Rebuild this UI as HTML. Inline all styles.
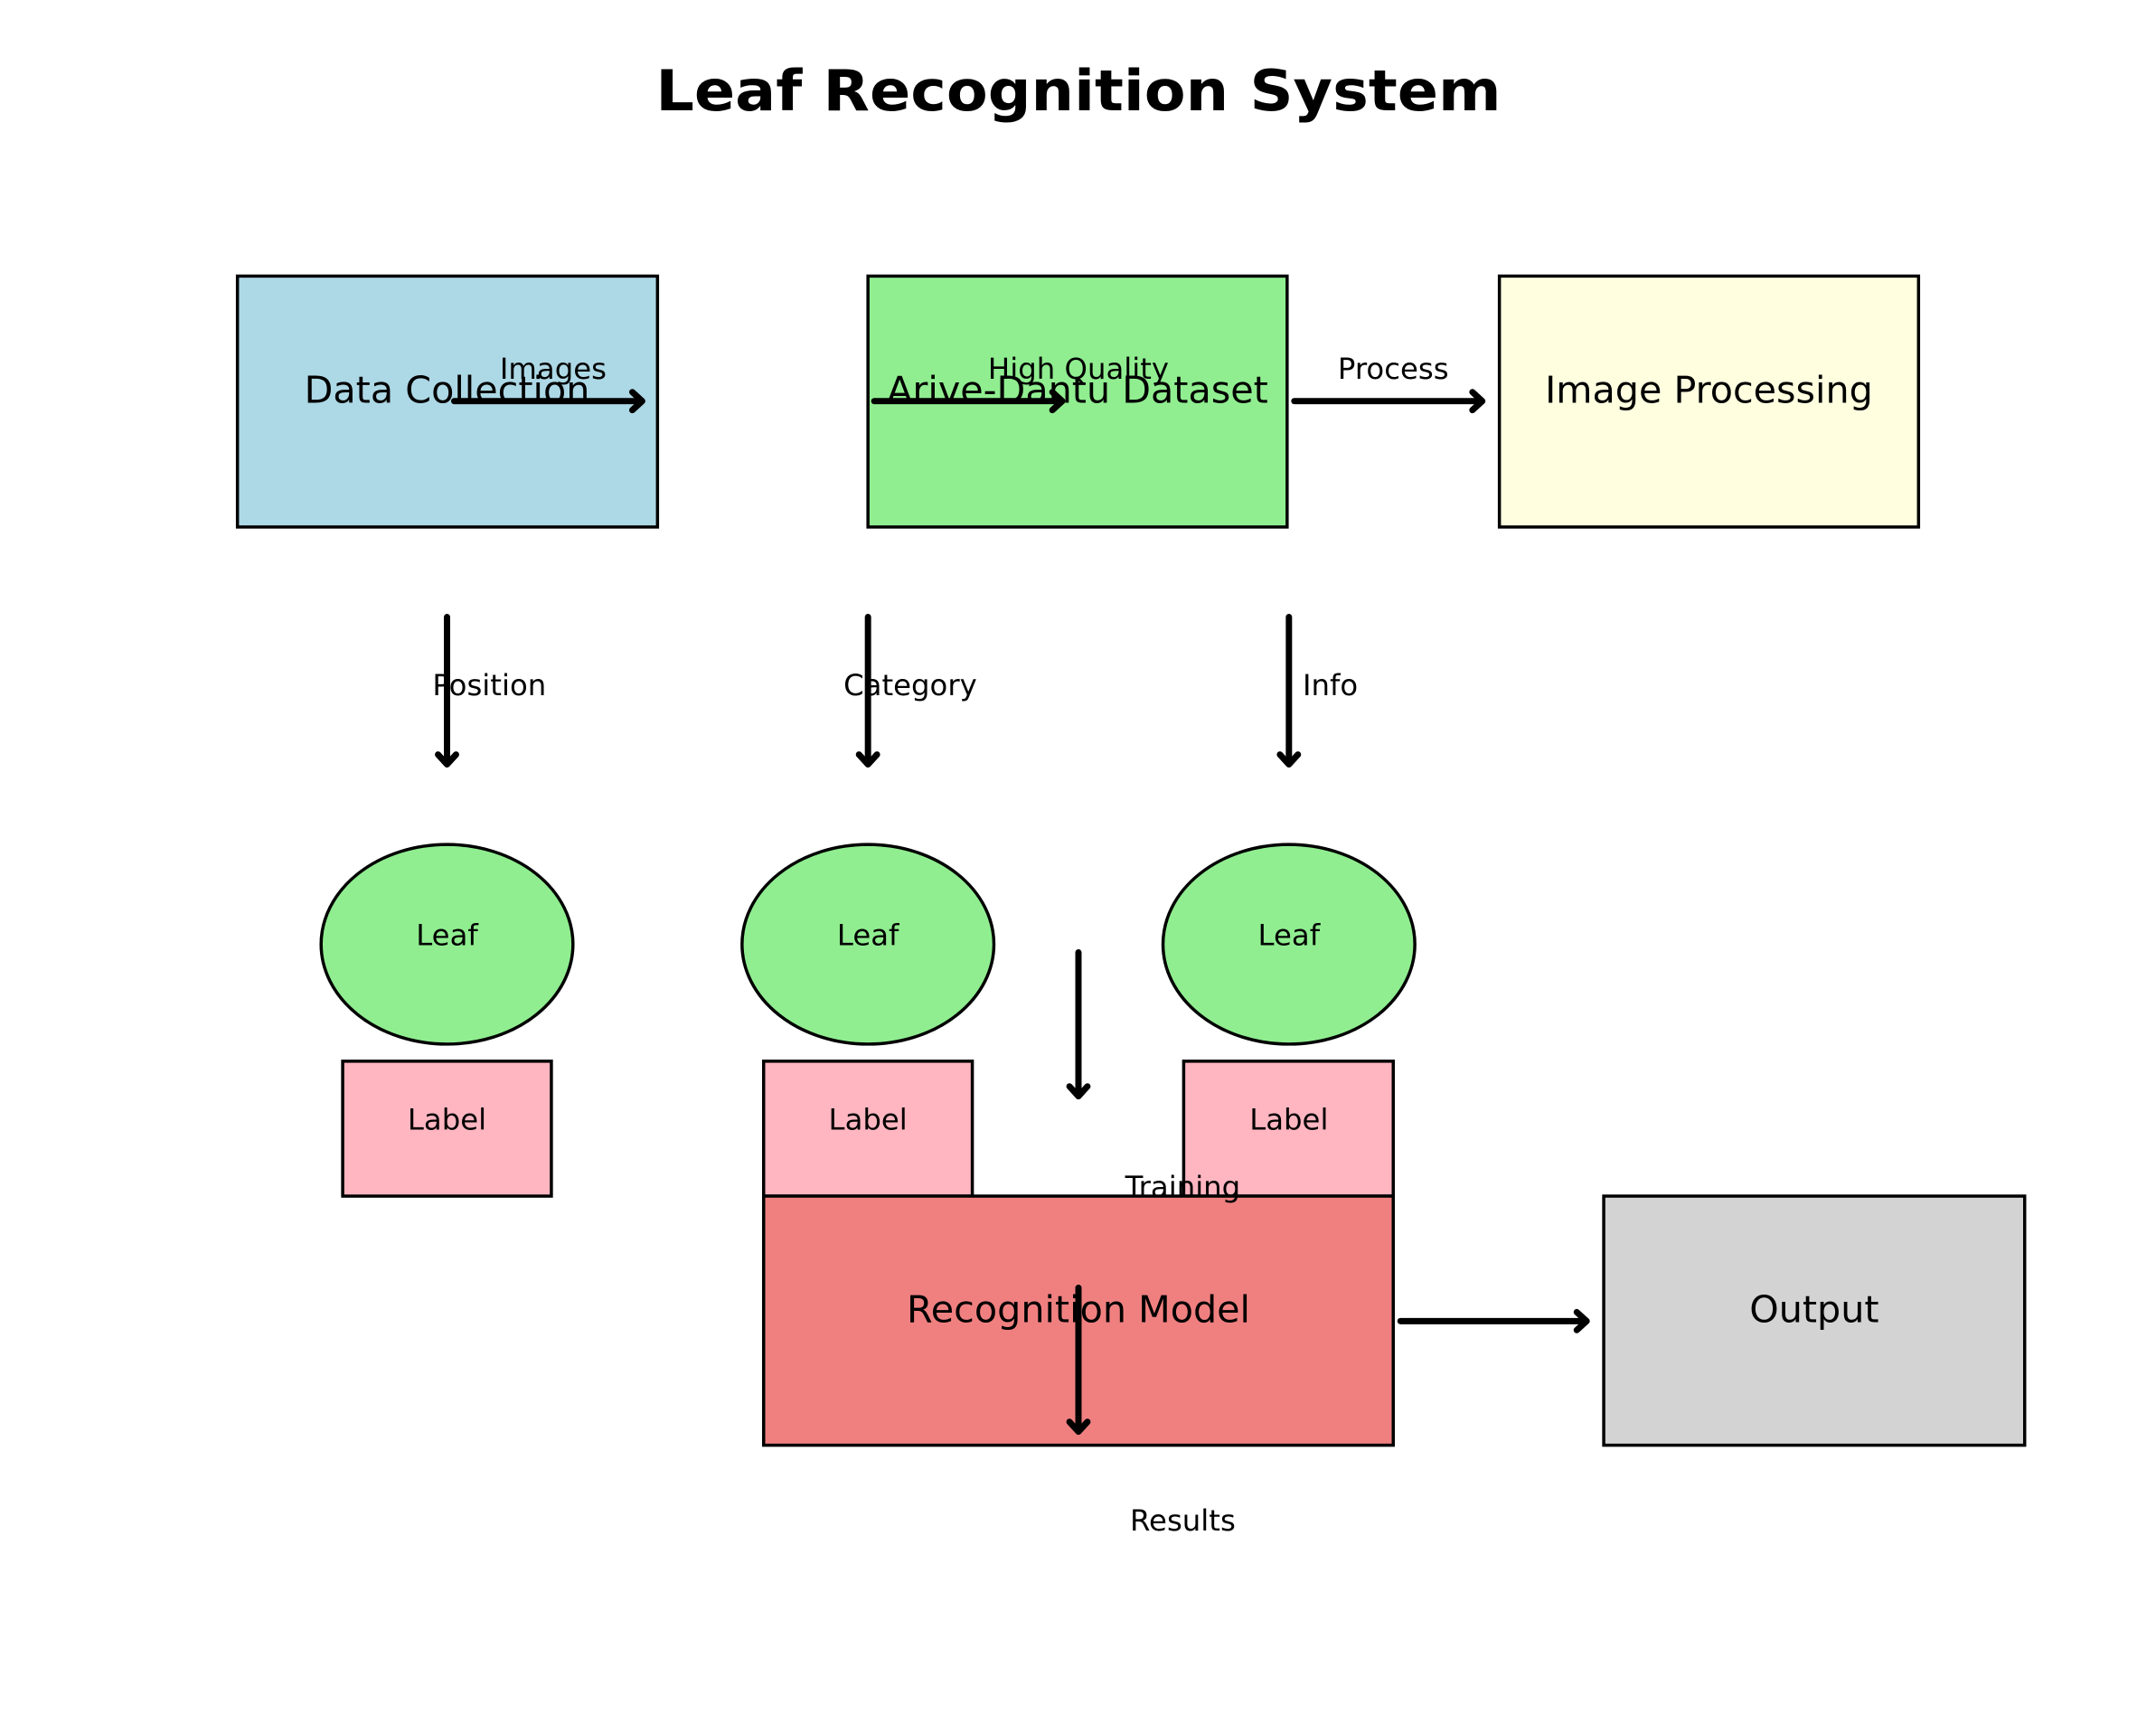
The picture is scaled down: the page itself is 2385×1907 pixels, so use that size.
<!DOCTYPE html>
<html><head><meta charset="utf-8"><style>html,body{margin:0;padding:0;background:#fff}svg{display:block}</style></head>
<body>
<svg width="2385" height="1907" viewBox="0 0 2397 1917" preserveAspectRatio="none" xmlns="http://www.w3.org/2000/svg" font-family="DejaVu Sans, Liberation Sans, sans-serif">
<text x="1199" y="101" text-anchor="middle" dominant-baseline="central" font-weight="bold" font-size="63" textLength="940" lengthAdjust="spacingAndGlyphs">Leaf Recognition System</text>

<g stroke="#000" stroke-width="3.5">
<rect x="264" y="307" width="467" height="279" fill="#add8e6"/>
<rect x="965" y="307" width="466" height="279" fill="#90ee90"/>
<rect x="1667" y="307" width="466" height="279" fill="#ffffe0"/>
<ellipse cx="497" cy="1050" rx="140" ry="111" fill="#90ee90"/>
<ellipse cx="965" cy="1050" rx="140" ry="111" fill="#90ee90"/>
<ellipse cx="1433" cy="1050" rx="140" ry="111" fill="#90ee90"/>
<rect x="381" y="1180" width="232" height="150" fill="#ffb6c1"/>
<rect x="849" y="1180" width="232" height="150" fill="#ffb6c1"/>
<rect x="1316" y="1180" width="233" height="150" fill="#ffb6c1"/>
<rect x="849" y="1330" width="700" height="277" fill="#f08080"/>
<rect x="1783" y="1330" width="468" height="277" fill="#d3d3d3"/>
</g>

<g font-size="41.5" text-anchor="middle" dominant-baseline="central">
<text x="497" y="434">Data Collection</text>
<text x="1198" y="434">Arive-Dantu Dataset</text>
<text x="1900" y="434">Image Processing</text>
<text x="1199" y="1456">Recognition Model</text>
<text x="2017" y="1456">Output</text>
</g>

<g stroke="#000" stroke-width="7" stroke-linecap="round" stroke-linejoin="round" fill="none">
<line x1="505" y1="446" x2="712" y2="446"/><path d="M703,436 L714,446 L703,456"/>
<line x1="972" y1="446" x2="1179" y2="446"/><path d="M1170,436 L1181,446 L1170,456"/>
<line x1="1439" y1="446" x2="1646" y2="446"/><path d="M1637,436 L1648,446 L1637,456"/>
<line x1="497" y1="686" x2="497" y2="848"/><path d="M487,839 L497,850 L507,839"/>
<line x1="965" y1="686" x2="965" y2="848"/><path d="M955,839 L965,850 L975,839"/>
<line x1="1433" y1="686" x2="1433" y2="848"/><path d="M1423,839 L1433,850 L1443,839"/>
<line x1="1199" y1="1059" x2="1199" y2="1217"/><path d="M1189,1208 L1199,1219 L1209,1208"/>
<line x1="1199" y1="1432" x2="1199" y2="1590"/><path d="M1189,1581 L1199,1592 L1209,1581"/>
<line x1="1557" y1="1469" x2="1762" y2="1469"/><path d="M1753,1459 L1764,1469 L1753,1479"/>
</g>

<g font-size="32.5" text-anchor="middle" dominant-baseline="central">
<text x="615" y="410">Images</text>
<text x="1199" y="410">High Quality</text>
<text x="1549" y="410">Process</text>
<text x="544" y="762">Position</text>
<text x="1012" y="762">Category</text>
<text x="1479" y="762">Info</text>
<text x="497" y="1040">Leaf</text>
<text x="965" y="1040">Leaf</text>
<text x="1433" y="1040">Leaf</text>
<text x="497" y="1245">Label</text>
<text x="965" y="1245">Label</text>
<text x="1433" y="1245">Label</text>
<text x="1315" y="1320">Training</text>
<text x="1315" y="1691">Results</text>
</g>
</svg>
</body></html>
